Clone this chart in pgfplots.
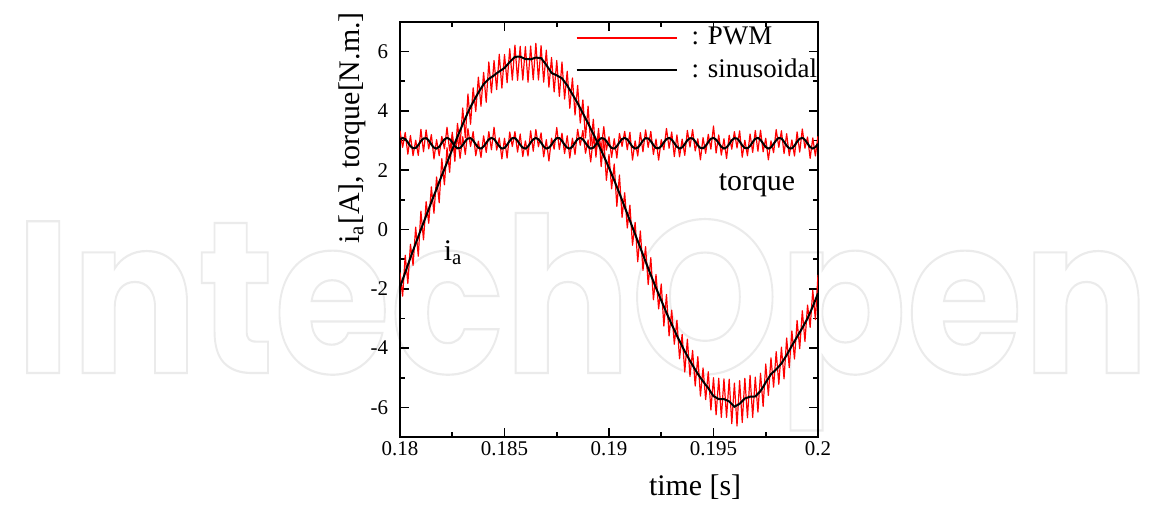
\documentclass[border=0pt]{standalone}
\usepackage{fontspec}
\setmainfont{Liberation Serif}
\font\wmfont="Poppins/B:embolden=1.0" at 100pt
\usepackage{graphicx}
\usepackage{pgfplots}
\usepackage{pgfplotstable}
\pgfplotsset{compat=1.18}
\pgfplotstableread{
t ias iap tqs tqp
0.180000 -1.95 -1.45 3.03 3.33
0.180125 -1.70 -2.25 3.09 2.77
0.180250 -1.45 -0.87 3.05 3.27
0.180375 -1.20 -1.82 2.94 2.54
0.180500 -0.95 -0.50 2.81 3.17
0.180625 -0.71 -1.21 2.74 2.49
0.180750 -0.47 0.08 2.75 3.01
0.180875 -0.24 -0.90 2.85 2.50
0.181000 0.00 0.62 2.98 3.38
0.181125 0.23 -0.35 3.07 2.62
0.181250 0.46 0.94 3.08 3.36
0.181375 0.69 0.21 3.00 2.72
0.181500 0.92 1.44 2.87 3.20
0.181625 1.15 0.55 2.76 2.38
0.181750 1.37 1.77 2.73 3.03
0.181875 1.60 0.90 2.79 2.49
0.182000 1.82 2.39 2.92 3.14
0.182125 2.04 1.51 3.04 2.72
0.182250 2.26 2.76 3.09 3.45
0.182375 2.48 1.93 3.05 2.65
0.182500 2.70 3.28 2.94 3.20
0.182625 2.92 2.30 2.81 2.56
0.182750 3.13 3.58 2.74 3.14
0.182875 3.34 2.84 2.75 2.40
0.183000 3.55 4.10 2.85 3.13
0.183125 3.75 3.09 2.98 2.53
0.183250 3.95 4.57 3.07 3.40
0.183375 4.13 3.55 3.08 2.80
0.183500 4.30 4.78 3.00 3.30
0.183625 4.46 3.98 2.87 2.49
0.183750 4.62 5.14 2.76 2.98
0.183875 4.76 4.16 2.73 2.43
0.184000 4.90 5.30 2.80 3.16
0.184125 4.99 4.29 2.92 2.60
0.184250 5.08 5.65 3.04 3.30
0.184375 5.14 4.61 3.09 2.69
0.184500 5.20 5.70 3.05 3.45
0.184625 5.27 4.72 2.93 2.68
0.184750 5.33 5.91 2.81 3.09
0.184875 5.39 4.77 2.73 2.38
0.185000 5.45 5.90 2.75 3.08
0.185125 5.55 4.95 2.86 2.41
0.185250 5.65 6.10 2.99 3.29
0.185375 5.74 5.04 3.08 2.80
0.185500 5.82 6.22 3.08 3.30
0.185625 5.83 5.03 2.99 2.61
0.185750 5.83 6.18 2.86 3.22
0.185875 5.79 5.04 2.76 2.46
0.186000 5.75 6.17 2.73 2.99
0.186125 5.75 4.97 2.80 2.48
0.186250 5.74 6.19 2.93 3.33
0.186375 5.77 5.05 3.04 2.64
0.186500 5.80 6.28 3.09 3.37
0.186625 5.79 5.04 3.04 2.79
0.186750 5.78 6.20 2.93 3.26
0.186875 5.67 4.97 2.80 2.45
0.187000 5.55 6.05 2.73 3.03
0.187125 5.42 4.80 2.76 2.31
0.187250 5.28 5.80 2.86 3.08
0.187375 5.24 4.64 2.99 2.71
0.187500 5.20 5.70 3.08 3.44
0.187625 5.15 4.49 3.08 2.70
0.187750 5.10 5.65 2.99 3.25
0.187875 4.98 4.40 2.86 2.56
0.188000 4.86 5.34 2.76 3.16
0.188125 4.71 4.09 2.73 2.41
0.188250 4.56 5.11 2.80 3.08
0.188375 4.41 3.86 2.93 2.53
0.188500 4.26 4.86 3.05 3.38
0.188625 4.09 3.59 3.09 2.84
0.188750 3.92 4.37 3.04 3.34
0.188875 3.75 3.09 2.92 2.57
0.189000 3.58 4.16 2.80 3.02
0.189125 3.40 2.82 2.73 2.28
0.189250 3.22 3.72 2.76 3.12
0.189375 3.04 2.44 2.87 2.59
0.189500 2.86 3.41 3.00 3.26
0.189625 2.67 2.12 3.08 2.70
0.189750 2.48 3.06 3.07 3.47
0.189875 2.28 1.66 2.98 2.68
0.190000 2.08 2.53 2.85 3.13
0.190125 1.87 1.37 2.75 2.43
0.190250 1.66 2.21 2.73 3.06
0.190375 1.44 0.78 2.81 2.41
0.190500 1.22 1.84 2.94 3.24
0.190625 0.99 0.41 3.05 2.80
0.190750 0.76 1.24 3.09 3.31
0.190875 0.53 0.05 3.04 2.69
0.191000 0.30 0.82 2.92 3.28
0.191125 0.07 -0.53 2.79 2.34
0.191250 -0.16 0.24 2.73 2.99
0.191375 -0.39 -1.09 2.76 2.48
0.191500 -0.62 -0.05 2.87 3.27
0.191625 -0.85 -1.38 3.00 2.62
0.191750 -1.08 -0.58 3.08 3.36
0.191875 -1.31 -1.86 3.07 2.77
0.192000 -1.53 -0.95 2.98 3.31
0.192125 -1.75 -2.37 2.85 2.53
0.192250 -1.97 -1.52 2.75 3.05
0.192375 -2.18 -2.68 2.74 2.34
0.192500 -2.39 -1.84 2.81 3.03
0.192625 -2.60 -3.26 2.94 2.69
0.192750 -2.81 -2.19 3.05 3.41
0.192875 -3.01 -3.59 3.09 2.74
0.193000 -3.20 -2.72 3.03 3.29
0.193125 -3.39 -3.87 2.91 2.46
0.193250 -3.58 -3.06 2.79 3.19
0.193375 -3.76 -4.36 2.73 2.45
0.193500 -3.94 -3.54 2.77 3.05
0.193625 -4.11 -4.81 2.88 2.50
0.193750 -4.27 -3.70 3.01 3.34
0.193875 -4.43 -4.96 3.08 2.78
0.194000 -4.58 -4.08 3.07 3.37
0.194125 -4.73 -5.28 2.97 2.65
0.194250 -4.87 -4.29 2.84 3.06
0.194375 -5.00 -5.62 2.75 2.35
0.194500 -5.12 -4.67 2.74 3.10
0.194625 -5.24 -5.74 2.82 2.57
0.194750 -5.35 -4.80 2.95 3.21
0.194875 -5.49 -6.09 3.06 2.71
0.195000 -5.62 -5.00 3.09 3.49
0.195125 -5.67 -6.25 3.03 2.58
0.195250 -5.72 -5.02 2.91 3.19
0.195375 -5.72 -6.34 2.79 2.51
0.195500 -5.72 -5.04 2.73 3.06
0.195625 -5.76 -6.34 2.77 2.39
0.195750 -5.80 -5.05 2.88 3.18
0.195875 -5.89 -6.55 3.01 2.71
0.196000 -5.98 -5.18 3.08 3.30
0.196125 -5.93 -6.63 3.07 2.75
0.196250 -5.88 -5.10 2.97 3.33
0.196375 -5.79 -6.51 2.84 2.44
0.196500 -5.70 -5.02 2.75 3.01
0.196625 -5.67 -6.35 2.74 2.49
0.196750 -5.64 -4.92 2.82 3.22
0.196875 -5.64 -6.34 2.95 2.60
0.197000 -5.63 -4.98 3.06 3.34
0.197125 -5.54 -6.16 3.09 2.64
0.197250 -5.45 -4.85 3.02 3.35
0.197375 -5.31 -5.97 2.90 2.62
0.197500 -5.16 -4.54 2.78 3.08
0.197625 -5.02 -5.60 2.73 2.35
0.197750 -4.88 -4.33 2.77 2.99
0.197875 -4.80 -5.32 2.89 2.59
0.198000 -4.72 -4.12 3.01 3.37
0.198125 -4.62 -5.22 3.09 2.77
0.198250 -4.52 -3.97 3.07 3.33
0.198375 -4.38 -5.04 2.96 2.56
0.198500 -4.24 -3.66 2.83 3.23
0.198625 -4.08 -4.66 2.74 2.49
0.198750 -3.92 -3.42 2.74 3.02
0.198875 -3.77 -4.37 2.83 2.48
0.199000 -3.62 -3.07 2.96 3.29
0.199125 -3.47 -4.02 3.06 2.61
0.199250 -3.32 -2.74 3.09 3.39
0.199375 -3.16 -3.78 3.02 2.74
0.199500 -3.00 -2.55 2.90 3.12
0.199625 -2.80 -3.30 2.78 2.40
0.199750 -2.60 -2.05 2.73 3.09
0.199875 -2.38 -3.04 2.78 2.48
0.200000 -2.15 -1.53 2.89 3.15
}\data
\definecolor{pwmred}{RGB}{255,0,0}
\begin{document}
\begin{tikzpicture}
\path[use as bounding box] (0,0) rectangle (575bp,252.5bp);
\node[anchor=base west, inner sep=0pt] at (7.5bp,66bp)
  {\resizebox{567bp}{80bp}{\special{pdf:bcolor [1 1 1] [0.92 0.92 0.92]}\wmfont IntechOpen\special{pdf:ecolor}}};
\begin{axis}[
  at={(200bp,34bp)}, anchor=south west,
  scale only axis, width=209bp, height=207.5bp,
  xmin=0.18, xmax=0.2, ymin=-7, ymax=7,
  xtick={0.18,0.185,0.19,0.195,0.2},
  xticklabels={0.18,0.185,0.19,0.195,0.2},
  scaled x ticks=false,
  ytick={-6,-4,-2,0,2,4,6},
  minor x tick num=1, minor y tick num=1,
  tick align=inside,
  major tick length=4.5bp, minor tick length=2.3bp,
  every tick/.style={black, line width=0.8bp},
  axis line style={line width=1bp},
  /pgf/number format/assume math mode=true,
  tick label style={font=\fontsize{10.5}{12}\selectfont},
  yticklabel style={xshift=-2.5bp},
  xticklabel style={yshift=1bp},
  xlabel={time [s]},
  xlabel style={at={(axis description cs:0.706,-0.12)}, anchor=center, font=\fontsize{15}{18}\selectfont},
  ylabel={i\textsubscript{a}[A], torque[N.m.]},
  ylabel style={at={(axis description cs:-0.115,0.745)}, anchor=center, font=\fontsize{15}{18}\selectfont},
  legend style={draw=none, fill=none, at={(axis description cs:0.419,0.993)}, anchor=north west,
    font=\fontsize{13.5}{16}\selectfont, row sep=3.5bp, inner sep=0pt, nodes={inner sep=1bp},
    /tikz/every odd column/.append style={column sep=6bp}},
  legend image code/.code={\draw[#1] (0bp,0bp) -- (50bp,0bp);},
  legend cell align=left,
]
\addlegendimage{draw=pwmred, color=pwmred, line width=1bp}
\addlegendentry{: PWM}
\addlegendimage{draw=black, line width=1bp}
\addlegendentry{: sinusoidal}
\addplot[pwmred, line width=0.6bp, line join=round, forget plot] table[x=t,y=iap]{\data};
\addplot[pwmred, line width=0.6bp, line join=round, forget plot] table[x=t,y=tqp]{\data};
\addplot[black, line width=1bp, forget plot] table[x=t,y=ias]{\data};
\addplot[black, line width=1bp, smooth, forget plot] table[x=t,y=tqs]{\data};
\node[font=\fontsize{15}{18}\selectfont] at (axis cs:0.19708,1.5) {torque};
\node[font=\fontsize{15}{18}\selectfont] at (axis cs:0.18254,-0.79) {i\textsubscript{a}};
\end{axis}
\end{tikzpicture}
\end{document}
